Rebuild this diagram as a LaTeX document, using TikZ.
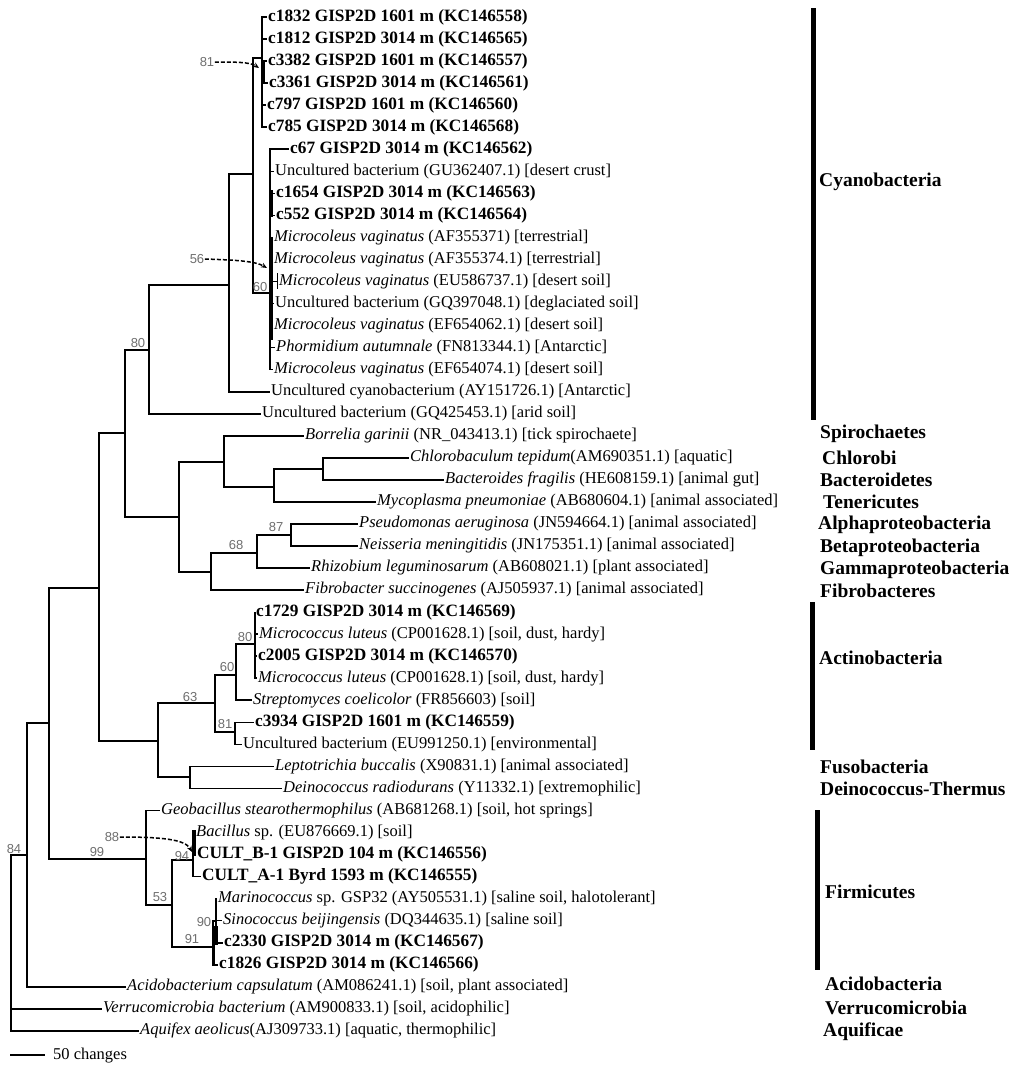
\documentclass[tikz,border=0pt]{standalone}
\usepackage{fontspec}
\setmainfont{Liberation Serif}
\newfontfamily\bsfont{Liberation Sans}
\usetikzlibrary{arrows.meta}
\definecolor{bsgray}{HTML}{6E6E6E}
\newcommand{\bfl}[1]{{\fontsize{17.3}{18}\selectfont\bfseries #1}}
\begin{document}
\begin{tikzpicture}[x=1pt,y=-1pt,
 br/.style={line width=1.6pt},
 thk/.style={line width=3.4pt},
 leaf/.style={anchor=west,inner xsep=1pt,inner ysep=0pt,font=\fontsize{16.5}{18}\selectfont},
 grp/.style={anchor=west,inner sep=0pt,font=\fontsize{19.5}{22}\selectfont\bfseries},
 bs/.style={font=\bsfont\fontsize{13}{14}\selectfont,text=bsgray,inner sep=0.5pt},
 gbar/.style={line width=5pt},
 darr/.style={dash pattern=on 4pt off 2pt,line width=1.5pt,-{Stealth[length=6pt,width=5pt]}}]
\useasboundingbox (0,0) rectangle (1024,1074);
% leaves
\node[leaf] (l1) at (267,17) {\bfl{c1832 GISP2D 1601 m (KC146558)}};
\node[leaf] (l2) at (267,39) {\bfl{c1812 GISP2D 3014 m (KC146565)}};
\node[leaf] (l3) at (267,61.1) {\bfl{c3382 GISP2D 1601 m (KC146557)}};
\node[leaf] (l4) at (268,83.1) {\bfl{c3361 GISP2D 3014 m (KC146561)}};
\node[leaf] (l5) at (266,105.2) {\bfl{c797 GISP2D 1601 m (KC146560)}};
\node[leaf] (l6) at (267,127.2) {\bfl{c785 GISP2D 3014 m (KC146568)}};
\node[leaf] (l7) at (289,149.2) {\bfl{c67 GISP2D 3014 m (KC146562)}};
\node[leaf] (l8) at (274,171.3) {Uncultured bacterium (GU362407.1) [desert crust]};
\node[leaf] (l9) at (275,193.3) {\bfl{c1654 GISP2D 3014 m (KC146563)}};
\node[leaf] (l10) at (275,215.4) {\bfl{c552 GISP2D 3014 m (KC146564)}};
\node[leaf] (l11) at (273,237.4) {\textit{Microcoleus vaginatus} (AF355371) [terrestrial]};
\node[leaf] (l12) at (273,259.4) {\textit{Microcoleus vaginatus} (AF355374.1) [terrestrial]};
\node[leaf] (l13) at (278,281.5) {\textit{Microcoleus vaginatus} (EU586737.1) [desert soil]};
\node[leaf] (l14) at (274,303.5) {Uncultured bacterium (GQ397048.1) [deglaciated soil]};
\node[leaf] (l15) at (273,325.6) {\textit{Microcoleus vaginatus} (EF654062.1) [desert soil]};
\node[leaf] (l16) at (275,347.6) {\textit{Phormidium autumnale} (FN813344.1) [Antarctic]};
\node[leaf] (l17) at (273,369.6) {\textit{Microcoleus vaginatus} (EF654074.1) [desert soil]};
\node[leaf] (l18) at (270,391.7) {Uncultured cyanobacterium (AY151726.1) [Antarctic]};
\node[leaf] (l19) at (261,413.7) {Uncultured bacterium (GQ425453.1) [arid soil]};
\node[leaf] (l20) at (304,435.8) {\textit{Borrelia garinii} (NR\_043413.1) [tick spirochaete]};
\node[leaf] (l21) at (409,457.8) {\textit{Chlorobaculum tepidum}(AM690351.1) [aquatic]};
\node[leaf] (l22) at (444,479.8) {\textit{Bacteroides fragilis} (HE608159.1) [animal gut]};
\node[leaf] (l23) at (376,501.9) {\textit{Mycoplasma pneumoniae} (AB680604.1) [animal associated]};
\node[leaf] (l24) at (358,523.9) {\textit{Pseudomonas aeruginosa} (JN594664.1) [animal associated]};
\node[leaf] (l25) at (358,546) {\textit{Neisseria meningitidis} (JN175351.1) [animal associated]};
\node[leaf] (l26) at (310,568) {\textit{Rhizobium leguminosarum} (AB608021.1) [plant associated]};
\node[leaf] (l27) at (304,590) {\textit{Fibrobacter succinogenes} (AJ505937.1) [animal associated]};
\node[leaf] (l28) at (255,612.1) {\bfl{c1729 GISP2D 3014 m (KC146569)}};
\node[leaf] (l29) at (258,634.1) {\textit{Micrococcus luteus} (CP001628.1) [soil, dust, hardy]};
\node[leaf] (l30) at (257,656.2) {\bfl{c2005 GISP2D 3014 m (KC146570)}};
\node[leaf] (l31) at (257,678.2) {\textit{Micrococcus luteus} (CP001628.1) [soil, dust, hardy]};
\node[leaf] (l32) at (252,700.2) {\textit{Streptomyces coelicolor} (FR856603) [soil]};
\node[leaf] (l33) at (254,722.3) {\bfl{c3934 GISP2D 1601 m (KC146559)}};
\node[leaf] (l34) at (242,744.3) {Uncultured bacterium (EU991250.1) [environmental]};
\node[leaf] (l35) at (274,766.4) {\textit{Leptotrichia buccalis} (X90831.1) [animal associated]};
\node[leaf] (l36) at (282,788.4) {\textit{Deinococcus radiodurans} (Y11332.1) [extremophilic]};
\node[leaf] (l37) at (160,810.4) {\textit{Geobacillus stearothermophilus} (AB681268.1) [soil, hot springs]};
\node[leaf] (l38) at (195,832.5) {\textit{Bacillus} sp. (EU876669.1) [soil]};
\node[leaf] (l39) at (196,854.5) {\bfl{CULT\_B-1 GISP2D 104 m (KC146556)}};
\node[leaf] (l40) at (201,876.6) {\bfl{CULT\_A-1 Byrd 1593 m (KC146555)}};
\node[leaf] (l41) at (217,898.6) {\textit{Marinococcus} sp. GSP32 (AY505531.1) [saline soil, halotolerant]};
\node[leaf] (l42) at (222,920.6) {\textit{Sinococcus beijingensis} (DQ344635.1) [saline soil]};
\node[leaf] (l43) at (223,942.7) {\bfl{c2330 GISP2D 3014 m (KC146567)}};
\node[leaf] (l44) at (218,964.7) {\bfl{c1826 GISP2D 3014 m (KC146566)}};
\node[leaf] (l45) at (126,986.8) {\textit{Acidobacterium capsulatum} (AM086241.1) [soil, plant associated]};
\node[leaf] (l46) at (102,1008.8) {\textit{Verrucomicrobia bacterium} (AM900833.1) [soil, acidophilic]};
\node[leaf] (l47) at (139,1030.8) {\textit{Aquifex aeolicus}(AJ309733.1) [aquatic, thermophilic]};
% internal nodes
\coordinate (nT) at (262,58);
\coordinate (nB) at (270,293);
\coordinate (n253) at (253,174);
\coordinate (n229) at (229,285);
\coordinate (n149) at (149,350);
\coordinate (n125) at (125,433);
\coordinate (n179) at (179,517);
\coordinate (n224) at (224,462);
\coordinate (n274) at (274,487);
\coordinate (n323) at (323,469);
\coordinate (n211) at (211,572);
\coordinate (n257) at (257,553);
\coordinate (n291) at (291,535);
\coordinate (n99) at (99,588);
\coordinate (n158) at (158,741);
\coordinate (n215) at (215,703);
\coordinate (n236) at (236,675);
\coordinate (n255) at (255,644);
\coordinate (n235) at (235,732);
\coordinate (n190) at (190,777);
\coordinate (n49) at (49,723);
\coordinate (n146) at (146,859);
\coordinate (n172) at (172,905);
\coordinate (n193) at (193,860);
\coordinate (n212) at (213,947);
\coordinate (n90) at (216,921);
\coordinate (n27) at (27,855);
\coordinate (nR) at (11,943);
% thick sub-clades
\coordinate (s81a) at (263.5,61); \coordinate (s81b) at (263.5,84);
\coordinate (sCa) at (271.5,190); \coordinate (sCb) at (271.5,217);
\coordinate (sMa) at (271.5,238); \coordinate (sMb) at (271.5,340);
\coordinate (s88a) at (194,830); \coordinate (s88b) at (194,856);
\coordinate (s90a) at (216,926); \coordinate (s90b) at (216,945);
\coordinate (s91a) at (213.5,932); \coordinate (s91b) at (213.5,966);
\coordinate (sEa) at (277,273); \coordinate (sEb) at (277,289);
% branches
\foreach \c in {l1,l2,l3,l4,l5,l6} \draw[br] (nT) |- (\c.west);
\foreach \c in {l7,l8,l9,l10,l11,l12,l13,l14,l15,l16,l17} \draw[br] (nB) |- (\c.west);
\draw[thk] (s81a) -- (s81b);
\draw[thk] (sCa) -- (sCb);
\draw[thk] (sMa) -- (sMb);
\draw[line width=0.8pt] (sEa) -- (sEb);
\draw[br] (n253) |- (nT);
\draw[br] (n253) |- (nB);
\draw[br] (n229) |- (n253);
\draw[br] (n229) |- (l18.west);
\draw[br] (n149) |- (n229);
\draw[br] (n149) |- (l19.west);
\draw[br] (n125) |- (n149);
\draw[br] (n125) |- (n179);
\draw[br] (n179) |- (n224);
\draw[br] (n179) |- (n211);
\draw[br] (n224) |- (l20.west);
\draw[br] (n224) |- (n274);
\draw[br] (n274) |- (n323);
\draw[br] (n274) |- (l23.west);
\draw[br] (n323) |- (l21.west);
\draw[br] (n323) |- (l22.west);
\draw[br] (n211) |- (n257);
\draw[br] (n211) |- (l27.west);
\draw[br] (n257) |- (n291);
\draw[br] (n257) |- (l26.west);
\draw[br] (n291) |- (l24.west);
\draw[br] (n291) |- (l25.west);
\draw[br] (n99) |- (n125);
\draw[br] (n99) |- (n158);
\draw[br] (n158) |- (n215);
\draw[br] (n158) |- (n190);
\draw[br] (n215) |- (n236);
\draw[br] (n215) |- (n235);
\draw[br] (n236) |- (n255);
\draw[br] (n236) |- (l32.west);
\foreach \c in {l28,l29,l30,l31} \draw[br] (n255) |- (\c.west);
\draw[br] (n235) |- (l33.west);
\draw[br] (n235) |- (l34.west);
\draw[br] (n190) |- (l35.west);
\draw[br] (n190) |- (l36.west);
\draw[br] (n49) |- (n99);
\draw[br] (n49) |- (n146);
\draw[br] (n146) |- (l37.west);
\draw[br] (n146) |- (n172);
\draw[br] (n172) |- (n193);
\draw[br] (n172) |- (n212);
\foreach \c in {l38,l39,l40} \draw[br] (n193) |- (\c.west);
\draw[thk] (s88a) -- (s88b);
\draw[br] (n212) |- (n90);
\draw[br] (n212) |- (l44.west);
\foreach \c in {l41,l42,l43} \draw[br] (n90) |- (\c.west);
\draw[thk] (s90a) -- (s90b);
\draw[thk] (s91a) -- (s91b);
\draw[br] (n27) |- (n49);
\draw[br] (n27) |- (l45.west);
\draw[br] (nR) |- (n27);
\draw[br] (nR) |- (l46.west);
\draw[br] (nR) |- (l47.west);
% bootstrap values
\node[bs] (b81) at (207,62) {81};
\node[bs] (b56) at (197,259) {56};
\node[bs] (b60a) at (260,287) {60};
\node[bs] (b80a) at (138,343) {80};
\node[bs] (b87) at (276,527) {87};
\node[bs] (b68) at (236,545) {68};
\node[bs] (b80b) at (245,637) {80};
\node[bs] (b60b) at (227,667) {60};
\node[bs] (b63) at (190,697) {63};
\node[bs] (b81b) at (225,724) {81};
\node[bs] (b88) at (112,837) {88};
\node[bs] (b99) at (97,852) {99};
\node[bs] (b94) at (182,856) {94};
\node[bs] (b53) at (160,897) {53};
\node[bs] (b90) at (204,922) {90};
\node[bs] (b91) at (192,939) {91};
\node[bs] (b84) at (14,849) {84};
% dashed pointers
\coordinate (t81) at (259,68);
\coordinate (t56) at (267,268);
\coordinate (t88) at (192,852);
\draw[darr] (b81.east) .. controls (235,62) and (250,62) .. (t81);
\draw[darr] (b56.east) .. controls (235,260) and (255,261) .. (t56);
\draw[darr] (b88.east) .. controls (160,837) and (185,839) .. (t88);
% group bars and labels
\coordinate (gC1) at (813,8); \coordinate (gC2) at (813,420);
\coordinate (gA1) at (812,602); \coordinate (gA2) at (812,750);
\coordinate (gF1) at (817,810); \coordinate (gF2) at (817,970);
\draw[gbar] (gC1) -- (gC2);
\draw[gbar] (gA1) -- (gA2);
\draw[gbar] (gF1) -- (gF2);
\node[grp] (gCy) at (819,182) {Cyanobacteria};
\node[grp] (gSp) at (820,434) {Spirochaetes};
\node[grp] (gCh) at (822,458) {Chlorobi};
\node[grp] (gBa) at (820,480) {Bacteroidetes};
\node[grp] (gTe) at (823,502) {Tenericutes};
\node[grp] (gAl) at (818,525) {Alphaproteobacteria};
\node[grp] (gBe) at (820,548) {Betaproteobacteria};
\node[grp] (gGa) at (820,570) {Gammaproteobacteria};
\node[grp] (gFi) at (820,591) {Fibrobacteres};
\node[grp] (gAc) at (819,658) {Actinobacteria};
\node[grp] (gFu) at (820,767) {Fusobacteria};
\node[grp] (gDe) at (820,789) {Deinococcus-Thermus};
\node[grp] (gFm) at (825,892) {Firmicutes};
\node[grp] (gAd) at (825,984) {Acidobacteria};
\node[grp] (gVe) at (825,1008) {Verrucomicrobia};
\node[grp] (gAq) at (823,1032) {Aquificae};
% scale bar
\coordinate (sb1) at (10,1055); \coordinate (sb2) at (45,1055);
\draw[br] (sb1) -- (sb2);
\node[leaf] (sbl) at (52,1056) {50 changes};
\end{tikzpicture}
\end{document}
